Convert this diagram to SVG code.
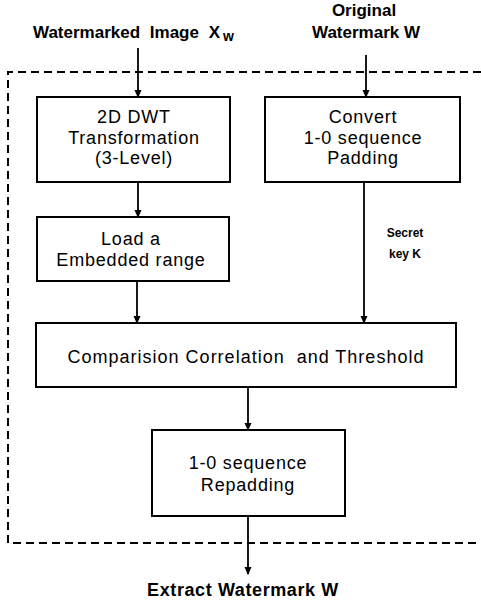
<svg xmlns="http://www.w3.org/2000/svg" width="481" height="601" viewBox="0 0 481 601">
<style>
.box{fill:#fff;stroke:#000;stroke-width:2}
.t{font-family:"Liberation Sans",Arial,sans-serif;font-size:18px;letter-spacing:0.8px;fill:#000;text-anchor:middle}
.lb{font-family:"Liberation Sans",Arial,sans-serif;font-size:17px;font-weight:bold;fill:#000;text-anchor:middle}
.sk{font-family:"Liberation Sans",Arial,sans-serif;font-size:12px;font-weight:bold;fill:#000;text-anchor:middle}
.c{stroke:#000;stroke-width:1.8;fill:none;marker-end:url(#ah)}
.dash{stroke:#000;stroke-width:2;fill:none;stroke-dasharray:8 5}
</style>
<defs>
<marker id="ah" markerWidth="8" markerHeight="8" refX="7" refY="4" orient="auto" markerUnits="userSpaceOnUse">
<path d="M0,0.5 L8,4 L0,7.5 Z" fill="#000"/>
</marker>
</defs>
<path class="dash" d="M481,72 L8,72 L8,543 L481,543"/>
<g id="labels">
<text class="lb" x="33" y="38" style="text-anchor:start;word-spacing:5px">Watermarked Image X<tspan font-size="14" dx="3" dy="3">w</tspan></text>
<text class="lb" x="364" y="16">Original</text>
<text class="lb" x="366" y="38">Watermark W</text>
<text class="lb" x="243" y="596" style="font-size:18px;letter-spacing:0.6px">Extract Watermark W</text>
<text class="sk" x="405" y="237">Secret</text>
<text class="sk" x="405" y="258">key K</text>
</g>
<g id="connectors">
<line class="c" x1="138" y1="48" x2="138" y2="97"/>
<line class="c" x1="366" y1="55" x2="366" y2="97"/>
<line class="c" x1="138" y1="182" x2="138" y2="217"/>
<line class="c" x1="137" y1="281" x2="137" y2="323"/>
<line class="c" x1="364" y1="182" x2="364" y2="323"/>
<line class="c" x1="248" y1="387" x2="248" y2="430"/>
<line class="c" x1="248" y1="516" x2="248" y2="574"/>
</g>
<g id="dwt">
<rect class="box" x="37" y="97" width="193" height="85"/>
<text class="t" x="134" y="123">2D DWT</text>
<text class="t" x="134" y="144">Transformation</text>
<text class="t" x="134" y="164">(3-Level)</text>
</g>
<g id="convert">
<rect class="box" x="265" y="97" width="195" height="85"/>
<text class="t" x="363" y="123">Convert</text>
<text class="t" x="363" y="144">1-0 sequence</text>
<text class="t" x="363" y="164">Padding</text>
</g>
<g id="load">
<rect class="box" x="37" y="217" width="192" height="64"/>
<text class="t" x="131" y="245">Load a</text>
<text class="t" x="131" y="266">Embedded range</text>
</g>
<g id="compare">
<rect class="box" x="36" y="323" width="420" height="64"/>
<text class="t" x="246" y="363" style="white-space:pre;letter-spacing:1px">Comparision Correlation  and Threshold</text>
</g>
<g id="repad">
<rect class="box" x="152" y="430" width="193" height="86"/>
<text class="t" x="248" y="469">1-0 sequence</text>
<text class="t" x="248" y="491">Repadding</text>
</g>
</svg>
